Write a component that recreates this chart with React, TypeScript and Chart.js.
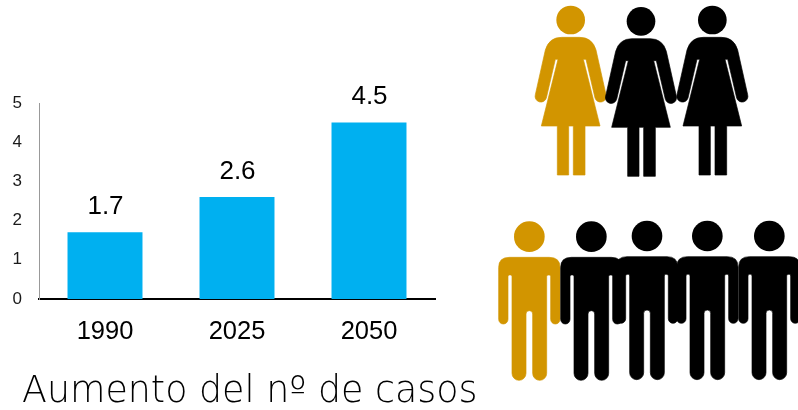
import React, { useEffect, useRef } from "react";
import { Chart, registerables } from "chart.js";

Chart.register(...registerables);

const categories = ["1990", "2025", "2050"];
const cases = [1.7, 2.6, 4.5];
const yTicks = [0, 1, 2, 3, 4, 5];
const chartTitle = "Aumento del nº de casos";

const BAR = "#00B0F0";
const GOLD = "#D29500";
const BLACK = "#000000";
const SANS = "'Liberation Sans', Arial, sans-serif";

const WOMAN =
  "M-27,112 L27,112 Q65,112 76,150 L106,284 A17,17 0 0 1 73,294 L46,178 L38,178 L88,378 L43,378 L43,525 L8,525 L8,378 L-6,378 L-6,525 L-40,525 L-40,378 L-88,378 L-38,178 L-46,178 L-73,294 A17,17 0 0 1 -106,284 L-76,150 Q-65,112 -27,112 Z";
const MAN =
  "M-60,142 L60,142 Q92,142 92,172 L92,328 A14,14 0 0 1 64,328 L64,200 Q64,195 60,195 L56,195 Q52,195 52,200 L52,490 A21,21 0 0 1 10,490 L10,312 A10,10 0 0 0 -10,312 L-10,490 A21,21 0 0 1 -52,490 L-52,200 Q-52,195 -56,195 L-60,195 Q-64,195 -64,200 L-64,328 A14,14 0 0 1 -92,328 L-92,172 Q-92,142 -60,142 Z";

const women = [
  { cx: 122, dy: 0, color: GOLD },
  { cx: 333, dy: 4, color: BLACK },
  { cx: 547, dy: 0, color: BLACK },
];
const men = [
  { cx: 118, dy: 0, color: GOLD },
  { cx: 304, dy: 0, color: BLACK },
  { cx: 471, dy: -2, color: BLACK },
  { cx: 652, dy: -2, color: BLACK },
  { cx: 838, dy: -2, color: BLACK },
];

function figure(ctx: CanvasRenderingContext2D, ox: number, oy: number, cx: number, dy: number, color: string, body: string, headY: number, headR: number) {
  ctx.save();
  ctx.translate(ox, oy);
  ctx.scale(1 / 3, 1 / 3);
  ctx.translate(cx, dy);
  ctx.fillStyle = color;
  ctx.strokeStyle = color;
  ctx.lineWidth = 2;
  const path = new Path2D(body);
  ctx.fill(path);
  ctx.stroke(path);
  ctx.beginPath();
  ctx.arc(0, headY, headR, 0, Math.PI * 2);
  ctx.fill();
  ctx.restore();
}

const figuresPlugin = {
  id: "figures",
  afterDraw(chart: any) {
    const ctx = chart.ctx;
    women.forEach((w) => figure(ctx, 530, 0, w.cx, w.dy, w.color, WOMAN, 60, 43));
    men.forEach((m) => figure(ctx, 490, 210, m.cx, m.dy, m.color, MAN, 80, 46));
    ctx.save();
    ctx.font = "200 36.4px 'DejaVu Sans'";
    ctx.fillStyle = "#000";
    ctx.textAlign = "left";
    ctx.textBaseline = "alphabetic";
    ctx.fillText(chartTitle, 22, 402);
    ctx.restore();
  },
};

const valueLabels = {
  id: "valueLabels",
  afterDatasetsDraw(chart: any) {
    const ctx = chart.ctx;
    const meta = chart.getDatasetMeta(0);
    ctx.save();
    ctx.font = `26px ${SANS}`;
    ctx.fillStyle = "#000";
    ctx.textAlign = "center";
    ctx.textBaseline = "middle";
    meta.data.forEach((bar: any, i: number) => {
      ctx.fillText(cases[i].toFixed(1), bar.x + 0.5, bar.y - 25.5);
    });
    ctx.restore();
  },
};

export default function App() {
  const ref = useRef<HTMLCanvasElement>(null);
  useEffect(() => {
    document.body.style.margin = "0";
    const chart = new Chart(ref.current!, {
      type: "bar",
      data: {
        labels: categories,
        datasets: [{ data: cases, backgroundColor: BAR, categoryPercentage: 1, barPercentage: 0.568 }],
      },
      options: {
        animation: false,
        responsive: false,
        layout: { padding: { left: 0, right: 363, top: 103, bottom: 0 } },
        plugins: {
          legend: { display: false },
          tooltip: { enabled: false },
        },
        scales: {
          x: {
            grid: { display: false, drawTicks: false },
            border: { color: "#000", width: 2 },
            ticks: { color: "#000", font: { family: SANS, size: 25.5 }, padding: 18 },
            afterFit: (s: any) => { s.height = 111; },
          },
          y: {
            min: 0,
            max: 5,
            afterBuildTicks: (s: any) => { s.ticks = yTicks.map((value) => ({ value })); },
            grid: { display: false, drawTicks: false },
            border: { color: "#999", width: 1 },
            ticks: { color: "#1a1a1a", font: { family: SANS, size: 17 }, padding: 17 },
            afterFit: (s: any) => { s.width = 39; },
          },
        },
      },
      plugins: [valueLabels, figuresPlugin],
    });
    return () => chart.destroy();
  }, []);
  return <canvas ref={ref} width={798} height={410} style={{ display: "block", position: "absolute", left: 0, top: 0 }} />;
}
